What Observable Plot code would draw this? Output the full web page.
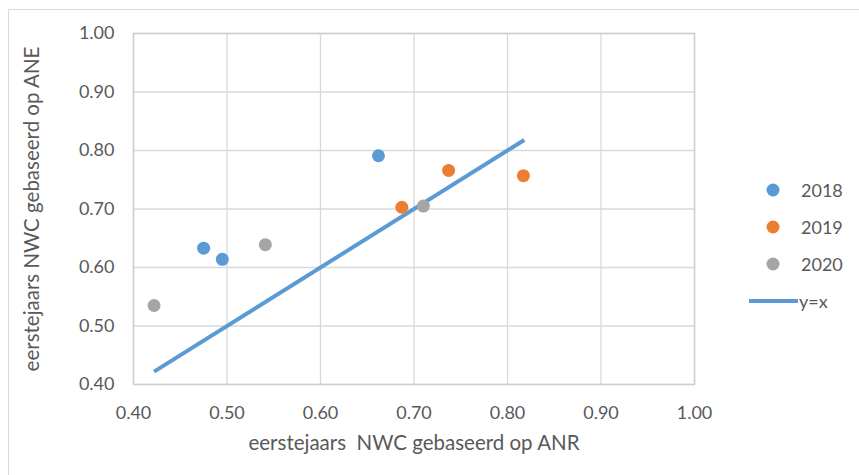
<!DOCTYPE html>
<html>
<head>
<meta charset="utf-8">
<script src="https://cdn.jsdelivr.net/npm/d3@7"></script>
<script src="https://cdn.jsdelivr.net/npm/@observablehq/plot@0.6"></script>
<style>
  html, body { margin: 0; padding: 0; background: #fff; }
  #wrap { position: relative; width: 859px; height: 475px; overflow: hidden; font-family: Lato, "Open Sans", sans-serif; color: #595959; }
  #border { position: absolute; left: 8px; top: 9px; width: 900px; height: 600px; border-top: 1.5px solid #d9d9d9; border-left: 1.5px solid #d9d9d9; }
  #chart { position: absolute; left: 0; top: 0; }
  #legend { position: absolute; left: 745px; top: 178px; font-size: 18px; }
  .item { position: absolute; left: 0; height: 24px; width: 110px; }
  .item .sym { position: absolute; }
  .item .lab { position: absolute; left: 56px; top: 0; line-height: 24px; }
</style>
</head>
<body>
<div id="wrap">
  <div id="border"></div>
  <div id="chart"></div>
  <div id="legend"></div>
</div>
<script>
const years = ["2018", "2019", "2020"];
const colors = ["#5B9BD5", "#ED7D31", "#A5A5A5"];
const anr2018 = [0.475, 0.495, 0.662];
const ane2018 = [0.633, 0.614, 0.791];
const anr2019 = [0.687, 0.737, 0.817];
const ane2019 = [0.703, 0.766, 0.757];
const anr2020 = [0.422, 0.541, 0.710];
const ane2020 = [0.535, 0.639, 0.705];
const lineX = [0.422, 0.818];
const lineLabel = "y=x";
const ticks = [0.40, 0.50, 0.60, 0.70, 0.80, 0.90, 1.00];
const xLabel = "eerstejaars  NWC gebaseerd op ANR";
const yLabel = "eerstejaars NWC gebaseerd op ANE";

const points = [];
[[anr2018, ane2018], [anr2019, ane2019], [anr2020, ane2020]].forEach(([xs, ys], i) => {
  xs.forEach((x, j) => points.push({year: years[i], x, y: ys[j]}));
});
const lineData = lineX.map(v => ({x: v, y: v}));

const plot = Plot.plot({
  width: 859,
  height: 475,
  marginLeft: 133,
  marginRight: 165,
  marginTop: 33,
  marginBottom: 91,
  style: {fontFamily: "Lato, 'Open Sans', sans-serif", fontSize: "18px", color: "#595959", background: "transparent"},
  x: {domain: [0.4, 1.0], ticks: ticks, tickFormat: ".2f"},
  y: {domain: [0.4, 1.0], ticks: ticks, tickFormat: ".2f"},
  color: {domain: years, range: colors},
  marks: [
    Plot.gridX(ticks, {stroke: "#d9d9d9", strokeOpacity: 1, strokeWidth: 1.3}),
    Plot.gridY(ticks, {stroke: "#d9d9d9", strokeOpacity: 1, strokeWidth: 1.3}),
    Plot.frame({stroke: "#cfcfcf", strokeWidth: 1.5}),
    Plot.axisX(ticks, {tickSize: 0, tickPadding: 22, tickFormat: ".2f", label: null, fill: "#595959", fontSize: 18}),
    Plot.axisY(ticks, {tickSize: 0, tickPadding: 19, tickFormat: ".2f", label: null, fill: "#595959", fontSize: 18}),
    Plot.line(lineData, {x: "x", y: "y", stroke: colors[0], strokeWidth: 4, strokeLinecap: "butt"}),
    Plot.dot(points, {x: "x", y: "y", fill: "year", r: 6.5, stroke: "none"}),
    Plot.text([xLabel], {frameAnchor: "bottom", dy: 59, text: d => d, fill: "#595959", fontSize: 20.5, lineAnchor: "middle", textAnchor: "middle"}),
    Plot.text([yLabel], {frameAnchor: "left", dx: -101, rotate: -90, text: d => d, fill: "#595959", fontSize: 20.5, lineAnchor: "middle", textAnchor: "middle"})
  ]
});
document.getElementById("chart").appendChild(plot);

const legend = document.getElementById("legend");
years.forEach((yr, i) => {
  const it = document.createElement("div");
  it.className = "item";
  it.style.top = (i * 37) + "px";
  it.innerHTML = `<svg class="sym" width="40" height="24" style="left:10px;top:0"><circle cx="18" cy="12" r="6.5" fill="${colors[i]}"/></svg><span class="lab">${yr}</span>`;
  legend.appendChild(it);
});
const li = document.createElement("div");
li.className = "item";
li.style.top = (3 * 37) + "px";
li.innerHTML = `<svg class="sym" width="60" height="24" style="left:3px;top:0"><line x1="1" x2="50" y1="12" y2="12" stroke="${colors[0]}" stroke-width="4"/></svg><span class="lab" style="left:54px">${lineLabel}</span>`;
legend.appendChild(li);
</script>
</body>
</html>
